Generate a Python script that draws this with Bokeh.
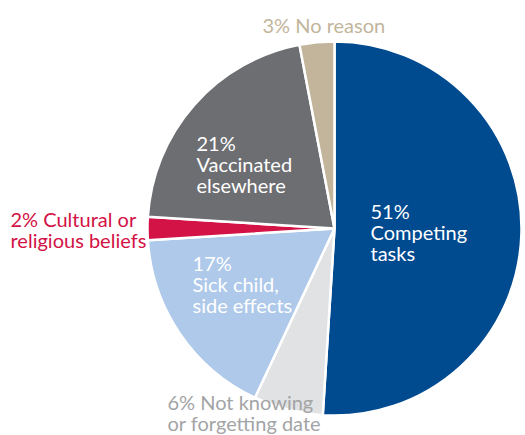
import numpy as np
from bokeh.plotting import figure
from bokeh.models import Range1d, ColumnDataSource
from bokeh.core.properties import value
from bokeh.embed import file_html
from bokeh.resources import INLINE

categories = ["Competing tasks", "Not knowing or forgetting date", "Sick child, side effects",
              "Cultural or religious beliefs", "Vaccinated elsewhere", "No reason"]
percent = [51, 6, 17, 2, 21, 3]
colors = ["#004a8f", "#e1e2e3", "#aec9e9", "#d31245", "#6d6e72", "#c2b59b"]

labels = ["51%\nCompeting\ntasks", "6% Not knowing\nor forgetting date", "17%\nSick child,\nside effects",
          "2% Cultural or\nreligious beliefs", "21%\nVaccinated\nelsewhere", "3% No reason"]
label_colors = ["white", "#a3a4a6", "white", "#d31245", "white", "#c2b59b"]
label_x = [370, 167, 192, 10, 196, 262]
label_y_img = [198, 389, 250, 206, 130, 12]

W, H = 525, 435
cx, cy_img, r = 334, 228, 187

p = figure(width=W, height=H, x_range=Range1d(0, W), y_range=Range1d(0, H),
           output_backend="svg", toolbar_location=None, min_border=0)
p.axis.visible = False
p.grid.visible = False
p.outline_line_color = None
p.background_fill_color = "white"

frac = np.array(percent, dtype=float) / sum(percent)
cum = np.concatenate([[0], np.cumsum(frac)])
start = np.pi / 2 - cum[1:] * 2 * np.pi
end = np.pi / 2 - cum[:-1] * 2 * np.pi

src = ColumnDataSource(dict(x=[cx] * len(percent), y=[H - cy_img] * len(percent),
                            start=start, end=end, color=colors, cat=categories))
p.wedge(x="x", y="y", radius=r, start_angle="start", end_angle="end",
        fill_color="color", line_color="white", line_width=2.5, source=src)

tsrc = ColumnDataSource(dict(x=label_x, y=[H - v for v in label_y_img], text=labels, color=label_colors))
p.text(x="x", y="y", text="text", text_color="color", source=tsrc,
       text_font=value("Lato"), text_font_size="20px", text_baseline="top",
       text_align="left", text_line_height=0.88)

open("out.html", "w").write(file_html(p, INLINE))
